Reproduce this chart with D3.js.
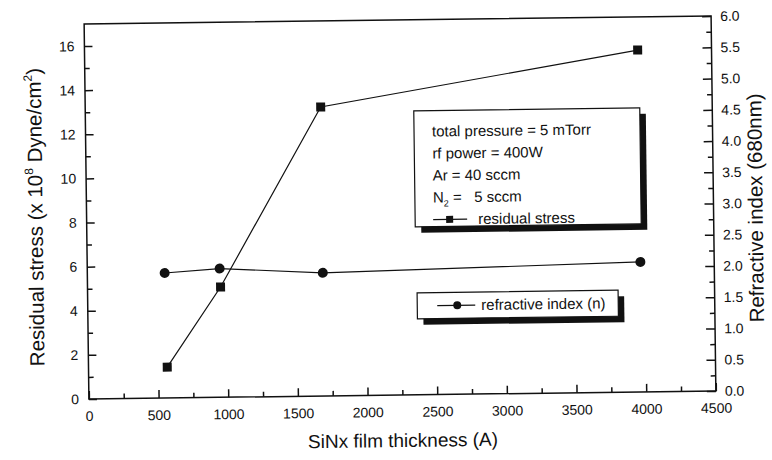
<!DOCTYPE html>
<html>
<head>
<meta charset="utf-8">
<script src="https://cdn.jsdelivr.net/npm/d3@7"></script>
<style>
  html, body { margin: 0; padding: 0; background: #fff; }
  svg { display: block; font-family: "Liberation Sans", Arial, sans-serif; }
</style>
</head>
<body>
<svg id="chart" width="772" height="460"></svg>
<script>
// values
const stressThickness = [565, 955, 1690, 3970];
const stressValues = [1.4, 5.0, 13.1, 15.5];
const indexThickness = [555, 950, 1690, 3970];
const indexValues = [2.0, 2.06, 1.97, 2.08];

const xTicks = [0, 500, 1000, 1500, 2000, 2500, 3000, 3500, 4000, 4500];
const leftTicks = [0, 2, 4, 6, 8, 10, 12, 14, 16];
const rightTicks = [0, 0.5, 1, 1.5, 2, 2.5, 3, 3.5, 4, 4.5, 5, 5.5, 6];

const conditions = ["total pressure = 5 mTorr", "rf power = 400W", "Ar = 40 sccm"];

const svg = d3.select("#chart");

const MARGIN = { left: 86.5, top: 20 };
const W = 627;
const H = 375;
const TILT = -0.73; // the scan is slightly rotated

const INK = "#111";

const root = svg.append("g")
  .attr("transform", `rotate(${TILT},${MARGIN.left + W / 2},${MARGIN.top + H / 2})`);
const g = root.append("g").attr("transform", `translate(${MARGIN.left},${MARGIN.top})`);

const x = d3.scaleLinear().domain([0, 4500]).range([0, W]);
const yL = d3.scaleLinear().domain([0, 17]).range([H, 0]);
const yR = d3.scaleLinear().domain([0, 6]).range([H, 0]);

// frame
g.append("rect")
  .attr("width", W).attr("height", H)
  .attr("fill", "none").attr("stroke", INK).attr("stroke-width", 1.5);

function styleAxis(sel) {
  sel.select(".domain").remove();
  sel.selectAll("line").attr("stroke", INK).attr("stroke-width", 1.5);
  sel.selectAll("text").attr("fill", INK).attr("font-size", 14);
}

// bottom: major + minor ticks pointing inward
g.append("g").attr("transform", `translate(0,${H})`)
  .call(d3.axisBottom(x).tickValues(d3.range(250, 4500, 500)).tickSize(-5).tickFormat(""))
  .call(styleAxis);
g.append("g").attr("transform", `translate(0,${H})`)
  .call(d3.axisBottom(x).tickValues(xTicks).tickSize(-8).tickPadding(12).tickFormat(d3.format("d")))
  .call(styleAxis);

// left
g.append("g")
  .call(d3.axisLeft(yL).tickValues(d3.range(1, 17, 2)).tickSize(-5).tickFormat(""))
  .call(styleAxis);
g.append("g")
  .call(d3.axisLeft(yL).tickValues(leftTicks).tickSize(-8).tickPadding(10).tickFormat(d3.format("d")))
  .call(styleAxis);

// right
g.append("g").attr("transform", `translate(${W},0)`)
  .call(d3.axisRight(yR).tickValues(d3.range(0.25, 6, 0.5)).tickSize(-5).tickFormat(""))
  .call(styleAxis);
g.append("g").attr("transform", `translate(${W},0)`)
  .call(d3.axisRight(yR).tickValues(rightTicks).tickSize(-9).tickPadding(9).tickFormat(d3.format(".1f")))
  .call(styleAxis);

// axis titles
g.append("text")
  .attr("x", W / 2).attr("y", H + 52)
  .attr("text-anchor", "middle").attr("font-size", 19).attr("fill", INK)
  .text("SiNx film thickness (A)");

const leftTitle = g.append("text")
  .attr("transform", `translate(${-44},${H / 2 + 5}) rotate(-90)`)
  .attr("text-anchor", "middle").attr("font-size", 20.5).attr("fill", INK);
leftTitle.append("tspan").text("Residual stress (x 10");
leftTitle.append("tspan").attr("font-size", 12).attr("dy", -9).text("8");
leftTitle.append("tspan").attr("dy", 9).text(" Dyne/cm");
leftTitle.append("tspan").attr("font-size", 12).attr("dy", -9).text("2");
leftTitle.append("tspan").attr("dy", 9).text(")");

g.append("text")
  .attr("transform", `translate(${W + 49},${H / 2 + 5}) rotate(-90)`)
  .attr("text-anchor", "middle").attr("font-size", 20.5).attr("fill", INK)
  .text("Refractive index (680nm)");

// series
const stressData = stressThickness.map((t, i) => ({ t, v: stressValues[i] }));
const indexData = indexThickness.map((t, i) => ({ t, v: indexValues[i] }));

g.append("path")
  .datum(stressData)
  .attr("fill", "none").attr("stroke", INK).attr("stroke-width", 1.2)
  .attr("d", d3.line().x((d) => x(d.t)).y((d) => yL(d.v)));

g.append("path")
  .datum(indexData)
  .attr("fill", "none").attr("stroke", INK).attr("stroke-width", 1.2)
  .attr("d", d3.line().x((d) => x(d.t)).y((d) => yR(d.v)));

g.selectAll("rect.sq")
  .data(stressData)
  .join("rect")
  .attr("class", "sq")
  .attr("x", (d) => x(d.t) - 4.5).attr("y", (d) => yL(d.v) - 4.5)
  .attr("width", 9).attr("height", 9)
  .attr("fill", INK);

g.selectAll("circle.dot")
  .data(indexData)
  .join("circle")
  .attr("class", "dot")
  .attr("cx", (d) => x(d.t)).attr("cy", (d) => yR(d.v))
  .attr("r", 5)
  .attr("fill", INK);

// legend boxes with drop shadow
function shadowBox(x0, y0, w, h) {
  g.append("rect")
    .attr("x", x0 + 6).attr("y", y0 + 6).attr("width", w).attr("height", h)
    .attr("fill", INK);
  g.append("rect")
    .attr("x", x0).attr("y", y0).attr("width", w).attr("height", h)
    .attr("fill", "#fff").attr("stroke", INK).attr("stroke-width", 1.2);
}

const box1 = { x: 415 - MARGIN.left, y: 111 - MARGIN.top, w: 226, h: 116 };
shadowBox(box1.x, box1.y, box1.w, box1.h);

const textX = box1.x + 18;
const lineGap = 22;
conditions.forEach((c, i) => {
  g.append("text")
    .attr("x", textX).attr("y", box1.y + 26 + i * lineGap)
    .attr("font-size", 15).attr("fill", INK)
    .text(c);
});
const n2 = g.append("text")
  .attr("x", textX).attr("y", box1.y + 26 + 3 * lineGap)
  .attr("font-size", 15).attr("fill", INK)
  .attr("xml:space", "preserve");
n2.append("tspan").text("N");
n2.append("tspan").attr("font-size", 9).attr("dy", 4).text("2");
n2.append("tspan").attr("dy", -4).text(" =   5 sccm");

const ly = box1.y + 21 + 4 * lineGap;
g.append("line")
  .attr("x1", textX).attr("x2", textX + 34).attr("y1", ly).attr("y2", ly)
  .attr("stroke", INK).attr("stroke-width", 1.2);
g.append("rect")
  .attr("x", textX + 13).attr("y", ly - 3.5).attr("width", 7).attr("height", 7)
  .attr("fill", INK);
g.append("text")
  .attr("x", textX + 45).attr("y", ly + 5)
  .attr("font-size", 15).attr("fill", INK)
  .text("residual stress");

const box2 = { x: 416 - MARGIN.left, y: 293 - MARGIN.top, w: 201, h: 26 };
shadowBox(box2.x, box2.y, box2.w, box2.h);
const ly2 = box2.y + 13;
g.append("line")
  .attr("x1", box2.x + 20).attr("x2", box2.x + 58).attr("y1", ly2).attr("y2", ly2)
  .attr("stroke", INK).attr("stroke-width", 1.2);
g.append("circle")
  .attr("cx", box2.x + 40).attr("cy", ly2).attr("r", 4)
  .attr("fill", INK);
g.append("text")
  .attr("x", box2.x + 64).attr("y", ly2 + 5)
  .attr("font-size", 15).attr("fill", INK)
  .text("refractive index (n)");
</script>
</body>
</html>
